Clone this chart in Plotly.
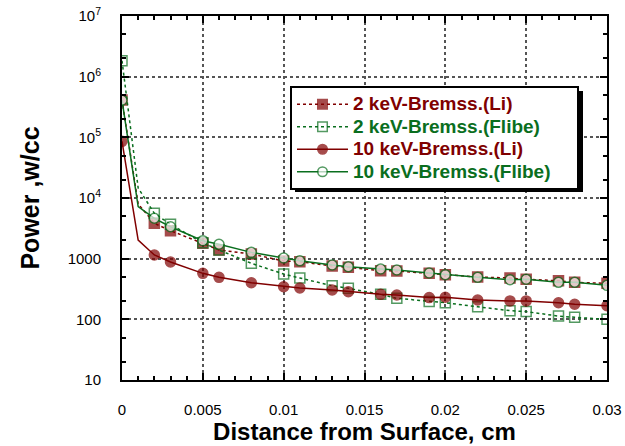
import plotly.graph_objects as go

x = [0, 0.001, 0.002, 0.003, 0.005, 0.006, 0.008, 0.01, 0.011, 0.013, 0.014,
     0.016, 0.017, 0.019, 0.02, 0.022, 0.024, 0.025, 0.027, 0.028, 0.03]

li_2kev = [4.12e5, 8000, 3830, 2890, 1790, 1390, 1195, 915, 892, 757, 720,
           634, 626, 573, 545, 499, 480, 457, 433, 407, 392]
flibe_2kev = [1.83e6, 14600, 5590, 3680, 1830, 1390, 838, 558, 480, 358, 324,
              258, 222, 196, 188, 161, 139, 134, 113, 108, 100]
li_10kev = [8.6e4, 2030, 1150, 880, 573, 492, 401, 345, 328, 304, 286,
            258, 252, 228, 231, 208, 201, 201, 188, 177, 168]
flibe_10kev = [4.1e5, 7190, 4630, 3360, 1980, 1725, 1270, 1026, 920, 787, 738,
               676, 651, 580, 545, 492, 450, 457, 407, 407, 363]

names = ["2 keV-Bremss.(Li)", "2 keV-Bremss.(Flibe)",
         "10 keV-Bremss.(Li)", "10 keV-Bremss.(Flibe)"]

x_ticks = [0, 0.005, 0.01, 0.015, 0.02, 0.025, 0.03]
x_ticktext = ["0", "0.005", "0.01", "0.015", "0.02", "0.025", "0.03"]
y_ticks = [10, 100, 1000, 1e4, 1e5, 1e6, 1e7]
y_ticktext = ["10", "100", "1000", "10<sup>4</sup>", "10<sup>5</sup>",
              "10<sup>6</sup>", "10<sup>7</sup>"]

RED = "#800000"
GREEN = "#0a6e1e"
FONT = "Liberation Sans, Arial, sans-serif"

W, H = 625, 446
L, T, R, B = 122, 16, 18, 66
PW, PH = W - L - R, H - T - B


def px_x(p):  # screen pixel -> paper x
    return (p - L) / PW


def px_y(p):  # screen pixel -> paper y
    return (H - B - p) / PH


def sizes(s):
    # marker hidden for the unmarked x=0.001 sample
    return [0 if xi == 0.001 else s for xi in x]


fig = go.Figure()
series = [
    (li_2kev, names[0], RED, "dot", "square", RED, 10, ""),
    (flibe_2kev, names[1], GREEN, "dot", "square-open", GREEN, 10, "\u00a0" * 4),
    (li_10kev, names[2], RED, "solid", "circle", RED, 10, ""),
    (flibe_10kev, names[3], GREEN, "solid", "circle", "white", 10, "\u00a0" * 4),
]
for vals, nm, col, dash, sym, fill, ms, pad in series:
    fig.add_trace(go.Scatter(
        x=x, y=vals, mode="lines+markers",
        name=f"<span style='color:{col};font-size:19px'><b>{nm}</b>{pad}</span>",
        line=dict(color=col, width=1.5, dash=dash),
        marker=dict(symbol=sym, size=sizes(ms), color=fill,
                    line=dict(color=col, width=1.5)),
    ))

# legend drop shadow
fig.add_shape(type="rect", xref="paper", yref="paper",
              x0=px_x(295), x1=px_x(583),
              y0=px_y(192), y1=px_y(91),
              fillcolor="black", line=dict(width=0), layer="above")

fig.update_layout(
    width=W, height=H,
    margin=dict(l=L, r=R, t=T, b=B, autoexpand=False),
    paper_bgcolor="white", plot_bgcolor="white",
    font=dict(family=FONT, size=15, color="black"),
    showlegend=True,
    legend=dict(x=px_x(290), y=px_y(86),
                xanchor="left", yanchor="top",
                bgcolor="white", bordercolor="black", borderwidth=2,
                font=dict(family=FONT, size=15),
                itemwidth=51, tracegroupgap=0),
    xaxis=dict(
        range=[0, 0.03], tickvals=x_ticks, ticktext=x_ticktext,
        ticks="inside", ticklen=7, tickwidth=2, tickcolor="black",
        minor=dict(ticks="inside", ticklen=4, tickcolor="black", dtick=0.001,
                   showgrid=False),
        showline=True, linecolor="black", linewidth=2, mirror="allticks",
        showgrid=True, gridcolor="#555555", gridwidth=2, griddash="dot",
        zeroline=False, ticklabelstandoff=15, automargin=False,
        ticklabeloverflow="allow",
        tickfont=dict(size=15),
        title=dict(text="<b>Distance from Surface, cm</b>",
                   font=dict(size=24), standoff=6),
    ),
    yaxis=dict(
        type="log", range=[1, 7], tickvals=y_ticks, ticktext=y_ticktext,
        ticks="inside", ticklen=7, tickwidth=2, tickcolor="black",
        minor=dict(ticks="inside", ticklen=4, tickcolor="black", showgrid=False),
        showline=True, linecolor="black", linewidth=2, mirror="allticks",
        showgrid=True, gridcolor="#555555", gridwidth=2, griddash="dot",
        zeroline=False, ticklabelstandoff=16, automargin=False,
        ticklabeloverflow="allow",
        tickfont=dict(size=15),
        title=dict(text="<b>Power ,w/cc</b>", font=dict(size=25), standoff=21),
    ),
)

# remove the default 8px page margin so the figure fills the window exactly
fig.write_html(
    "out.html",
    config={"displayModeBar": False},
    post_script="document.body.style.margin='0px';"
                "document.body.style.overflow='hidden';",
)
